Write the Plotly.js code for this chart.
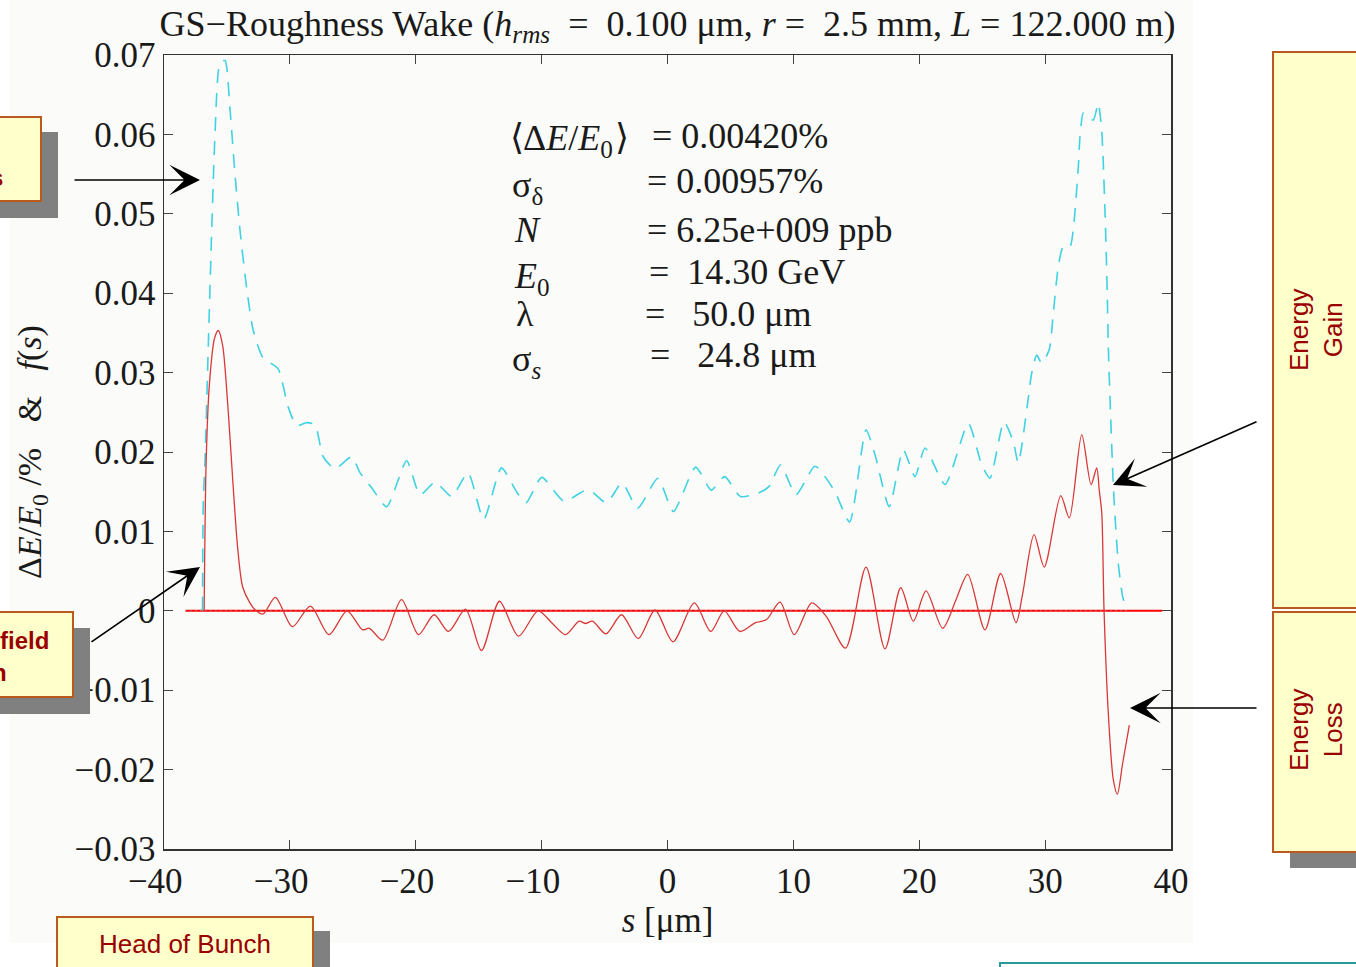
<!DOCTYPE html>
<html>
<head>
<meta charset="utf-8">
<script src="https://cdn.plot.ly/plotly-3.0.1.min.js"></script>
<style>html,body{margin:0;padding:0;background:#fff;}#plot{width:1356px;height:967px;}</style>
</head>
<body>
<div id="plot"></div>
<script>
// ---- data ----
// energy change ΔE/E0 [%] along the bunch
const sWake = [-36.81,-36.65,-36.39,-35.99,-35.68,-35.34,-34.94,-34.54,-34.14,-33.75,-33.21,-32.74,-32.13,-31.15,-29.80,-28.37,-26.89,-25.46,-24.23,-23.69,-22.62,-21.13,-19.78,-18.54,-17.40,-16.05,-14.78,-13.35,-11.84,-10.28,-9.14,-8.10,-7.02,-6.51,-5.96,-4.89,-3.65,-2.33,-0.99,0.43,2.13,3.44,4.50,5.75,6.99,7.87,8.94,10.07,11.46,12.61,14.14,15.77,17.28,18.53,19.53,20.54,21.86,22.92,23.85,25.22,26.47,27.69,28.22,29.12,29.93,31.24,31.92,32.91,33.65,34.10,34.30,34.50,34.68,35.02,35.42,35.74,36.16,36.69];
const dE = [0,0.0189,0.0286,0.0343,0.0353,0.0334,0.0261,0.0165,0.0078,0.0030,0.0011,0.0001,-0.0004,0.0017,-0.0020,0.0006,-0.0030,0.0000,-0.0024,-0.0022,-0.0037,0.0014,-0.0030,-0.0005,-0.0026,0.0002,-0.0050,0.0012,-0.0032,0.0000,-0.0016,-0.0030,-0.0013,-0.0016,-0.0013,-0.0029,-0.0005,-0.0035,0.0001,-0.0039,0.0010,-0.0026,0.0000,-0.0026,-0.0015,-0.0011,0.0011,-0.0030,0.0010,-0.0007,-0.0047,0.0055,-0.0048,0.0029,-0.0013,0.0025,-0.0022,0.0014,0.0046,-0.0024,0.0047,-0.0015,0.0022,0.0096,0.0055,0.0145,0.0117,0.0222,0.0159,0.0180,0.0152,0.0123,0.0001,-0.0129,-0.0213,-0.0231,-0.0192,-0.0144];
// bunch distribution f(s)
const sDist = [-36.94,-36.88,-36.74,-36.48,-36.21,-35.95,-35.55,-35.15,-34.76,-34.36,-33.96,-33.43,-32.91,-32.14,-30.94,-30.14,-29.46,-28.66,-28.00,-27.35,-26.42,-25.09,-24.43,-23.50,-22.31,-20.72,-19.66,-18.47,-17.14,-15.85,-14.60,-13.19,-11.96,-11.24,-9.99,-8.22,-6.63,-6.09,-4.85,-3.61,-2.37,-0.77,0.47,2.24,3.48,4.54,5.79,7.19,8.09,8.98,10.21,11.72,13.23,14.47,15.77,16.48,17.62,18.73,19.66,20.46,22.05,23.90,24.96,25.62,26.73,27.47,27.87,28.66,28.93,29.33,29.73,30.33,30.65,31.05,31.44,31.98,32.29,32.64,32.77,33.03,33.35,33.83,34.22,34.49,34.62,34.76,34.84,34.94,35.02,35.15,35.42,35.81,36.16,36.48];
const fDist = [0,0.0136,0.0189,0.0334,0.0479,0.0599,0.0690,0.0693,0.0632,0.0550,0.0479,0.0406,0.0353,0.0319,0.0305,0.0257,0.0233,0.0237,0.0234,0.0194,0.0179,0.0194,0.0174,0.0155,0.0131,0.0189,0.0146,0.0162,0.0144,0.0174,0.0115,0.0180,0.0149,0.0136,0.0168,0.0138,0.0151,0.0151,0.0136,0.0161,0.0129,0.0167,0.0125,0.0181,0.0152,0.0169,0.0144,0.0148,0.0157,0.0184,0.0146,0.0182,0.0152,0.0112,0.0228,0.0197,0.0131,0.0203,0.0169,0.0205,0.0159,0.0236,0.0184,0.0167,0.0238,0.0213,0.0186,0.0268,0.0299,0.0322,0.0312,0.0329,0.0375,0.0434,0.0459,0.0459,0.0489,0.0560,0.0597,0.0627,0.0623,0.0618,0.0639,0.0606,0.0564,0.0501,0.0459,0.0396,0.0333,0.0270,0.0157,0.0060,0.0018,0];
// zero reference lines
const zeroRedS = [-38.3, 39.3];
const zeroRedY = [0, 0];
const zeroDotS = [-38.3, 36.6];
const zeroDotY = [0, 0];
// tick values and labels
const xTicks = [-40,-30,-20,-10,0,10,20,30,40];
const xTickText = ['−40\u2002','−30\u2002','−20\u2002','−10\u2002','0','10','20','30','40'];
const yTicks = [-0.03,-0.02,-0.01,0,0.01,0.02,0.03,0.04,0.05,0.06,0.07];

// ---- geometry helpers (pixel -> paper) ----
const L = 164, R = 1171, T = 55, B = 849;
const P = px => (px - L) / (R - L);
const Q = py => (B - py) / (B - T);

const serif = 'Liberation Serif, Times New Roman, serif';
const sans = 'Liberation Sans, Arial, sans-serif';
const dark = '#1a1a1a';
const boxRed = '#990000';

const traces = [
  {x: zeroRedS, y: zeroRedY, mode: 'lines', line: {color: '#ff0000', width: 2}, hoverinfo: 'skip'},
  {x: sDist, y: fDist, mode: 'lines', line: {color: '#3fd2e2', width: 1.6, dash: '14px,10px', shape: 'spline', smoothing: 0.6}},
  {x: zeroDotS, y: zeroDotY, mode: 'lines', line: {color: '#8fb0d0', width: 1, dash: '1px,4px'}, hoverinfo: 'skip'},
  {x: sWake, y: dE, mode: 'lines', line: {color: '#d83838', width: 1.3, shape: 'spline', smoothing: 0.8}}
];

function rect(x0, y0, x1, y1, fill, line, lw, layer) {
  return {type: 'rect', xref: 'paper', yref: 'paper', x0: P(x0), x1: P(x1), y0: Q(y1), y1: Q(y0),
    fillcolor: fill, line: {color: line || fill, width: lw || 0}, layer: layer || 'above'};
}
const shapes = [
  rect(10, 0, 1193, 943, '#fbfcf9', '#fbfcf9', 0, 'below'),
  // top-left callout
  rect(-20, 132, 58, 218, '#808080'),
  rect(-20, 117, 41, 201, '#ffffcc', '#bb5a1e', 2),
  // lower-left callout
  rect(-20, 628, 90, 714, '#808080'),
  rect(-20, 612, 73, 697, '#ffffcc', '#bb5a1e', 2),
  // head of bunch
  rect(74, 931, 330, 990, '#808080'),
  rect(57, 917, 313, 990, '#ffffcc', '#bb5a1e', 2),
  // right callouts
  rect(1290, 620, 1380, 868, '#808080'),
  rect(1273, 52, 1380, 608, '#ffffcc', '#bb5a1e', 2),
  rect(1273, 612, 1380, 852, '#ffffcc', '#bb5a1e', 2),
  // teal box edge at bottom right
  rect(1000, 963, 1380, 990, '#ffffff', '#2a9a98', 2)
];

function txt(text, px, py, size, xanchor, opts) {
  return Object.assign({text: text, xref: 'paper', yref: 'paper', x: P(px), y: Q(py), xanchor: xanchor || 'left', yanchor: 'middle',
    showarrow: false, font: {family: serif, size: size, color: dark}}, opts || {});
}
function arrow(hx, hy, tx, ty) {
  return {text: '', xref: 'paper', yref: 'paper', x: P(hx), y: Q(hy), ax: tx - hx, ay: ty - hy,
    showarrow: true, arrowhead: 3, arrowsize: 3.2, arrowwidth: 1.6, arrowcolor: '#000'};
}

const fs = 35;
const tb = 36;
const bracketFont = {family: 'DejaVu Serif, serif', size: tb, color: dark};
const annotations = [
  // parameter block
  txt('⟨', 508, 136, tb, 'left', {font: bracketFont}),
  txt('Δ<i>E</i>/<i>E</i><sub>0</sub>', 521, 141, tb),
  txt('⟩', 613, 136, tb, 'left', {font: bracketFont}),
  txt('= 0.00420%', 650, 136, tb),
  txt('σ<sub>δ</sub>', 510, 187, tb),
  txt('= 0.00957%', 645, 181, tb),
  txt('<i>N</i>', 512, 230, tb),
  txt('= 6.25e+009 ppb', 645, 230, tb),
  txt('<i>E</i><sub>0</sub>', 512, 278, tb),
  txt('=  14.30 GeV', 647, 272, tb),
  txt('λ', 514, 314, tb),
  txt('=   50.0 μm', 643, 314, tb),
  txt('σ<sub><i>s</i></sub>', 510, 361, tb),
  txt('=   24.8 μm', 648, 355, tb),
  // callout texts
  txt('<b>s</b>', 5, 178, 24, 'right', {font: {family: sans, size: 24, color: boxRed}}),
  txt('<b>field</b>', 51, 640, 24, 'right', {font: {family: sans, size: 24, color: boxRed}}),
  txt('<b>n</b>', 9, 672, 24, 'right', {font: {family: sans, size: 24, color: boxRed}}),
  txt('Head of Bunch', 185, 944, 26, 'center', {font: {family: sans, size: 26, color: boxRed}}),
  txt('Energy<br>Gain', 1316, 330, 26, 'center', {textangle: -90, align: 'center', font: {family: sans, size: 26, color: boxRed}}),
  txt('Energy<br>Loss', 1316, 730, 26, 'center', {textangle: -90, align: 'center', font: {family: sans, size: 26, color: boxRed}}),
  // arrows
  arrow(200, 180, 73, 180),
  arrow(200, 567, 90, 643),
  arrow(1113, 485, 1258, 421),
  arrow(1130, 708, 1258, 708)
];

const axisCommon = {
  showline: true, linecolor: '#333', linewidth: 1.5, mirror: 'ticks',
  ticks: 'inside', ticklen: 9, tickwidth: 1, tickcolor: '#444',
  showgrid: false, zeroline: false,
  tickfont: {family: serif, size: fs, color: dark}
};

const layout = {
  width: 1356, height: 967,
  margin: {l: L, r: 1356 - R, t: T, b: 967 - B, pad: 0},
  paper_bgcolor: '#ffffff', plot_bgcolor: 'rgba(0,0,0,0)',
  showlegend: false,
  title: {text: 'GS−Roughness Wake (<i>h</i><sub><i>rms</i></sub>\u00a0\u00a0=\u00a0 0.100 μm, <i>r</i> =\u00a0 2.5 mm, <i>L</i> = 122.000 m)',
    x: 0.5, xref: 'paper', xanchor: 'center', y: 1 - 23 / 967, yref: 'container', yanchor: 'middle',
    font: {family: serif, size: 36, color: dark}},
  xaxis: Object.assign({}, axisCommon, {range: [-40, 40], tickvals: xTicks, ticktext: xTickText, ticklabelstandoff: 0,
    title: {text: '<i>s</i> [μm]', font: {family: serif, size: fs, color: dark}, standoff: 2}}),
  yaxis: Object.assign({}, axisCommon, {range: [-0.03, 0.07], tickvals: yTicks, ticklabelstandoff: 0,
    title: {text: 'Δ<i>E</i>/<i>E</i><sub>0</sub> /%\u00a0\u00a0 &\u00a0\u00a0 <i>f</i>(<i>s</i>)', font: {family: serif, size: 34, color: dark}, standoff: 22}}),
  shapes: shapes,
  annotations: annotations
};

Plotly.newPlot('plot', traces, layout, {displayModeBar: false, staticPlot: true});
</script>
</body>
</html>
